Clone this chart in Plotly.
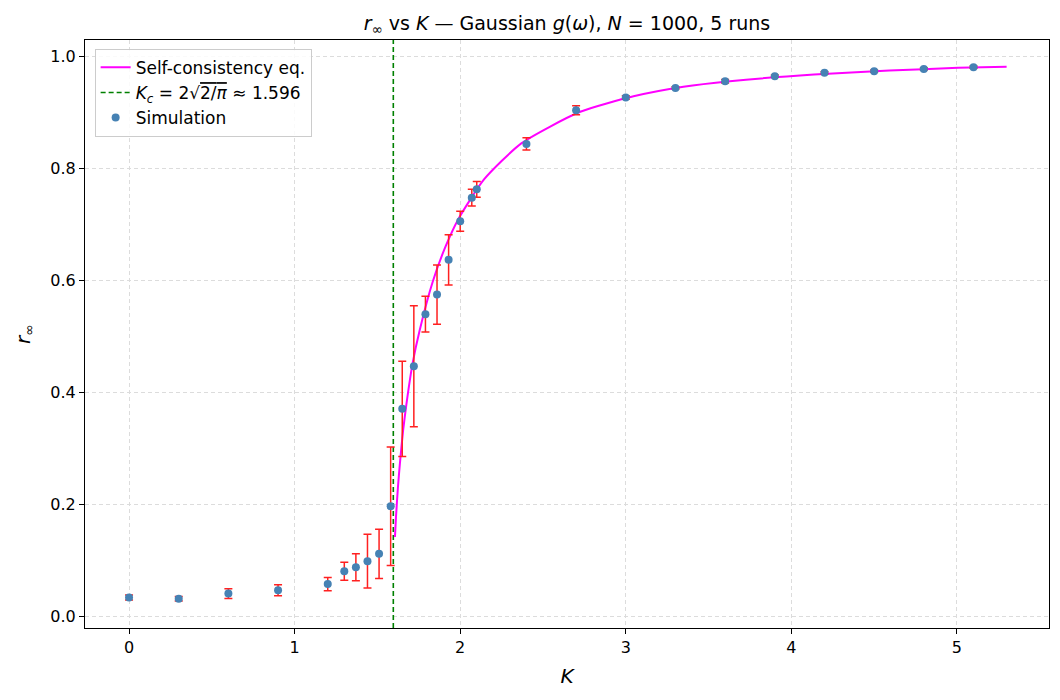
import plotly.graph_objects as go

# Simulation data
K_sim = [0, 0.3, 0.6, 0.9, 1.2, 1.3, 1.37, 1.44, 1.51, 1.58, 1.65, 1.72, 1.79, 1.86,
         1.93, 2.0, 2.07, 2.1, 2.4, 2.7, 3.0, 3.3, 3.6, 3.9, 4.2, 4.5, 4.8, 5.1]
r_sim = [0.033, 0.031, 0.040, 0.046, 0.057, 0.080, 0.087, 0.098, 0.111, 0.196, 0.370,
         0.446, 0.539, 0.574, 0.636, 0.705, 0.747, 0.762, 0.843, 0.903, 0.926, 0.943,
         0.955, 0.964, 0.970, 0.973, 0.977, 0.980]
r_err = [0.0045, 0.004, 0.0085, 0.010, 0.012, 0.016, 0.024, 0.048, 0.044, 0.106, 0.085,
         0.108, 0.032, 0.053, 0.045, 0.018, 0.015, 0.014, 0.011, 0.008, 0.003, 0.002,
         0.003, 0.002, 0.002, 0.002, 0.002, 0.002]

# Self-consistency curve
K_theory = [1.606, 1.612, 1.624, 1.636, 1.655, 1.675, 1.713, 1.755, 1.834, 1.913,
            1.991, 2.145, 2.369, 2.721, 3.047, 3.348, 3.628, 4.137, 4.592, 5.007, 5.3]
r_theory = [0.141, 0.176, 0.230, 0.273, 0.331, 0.378, 0.452, 0.510, 0.597, 0.661,
            0.710, 0.780, 0.844, 0.900, 0.928, 0.945, 0.955, 0.967, 0.974, 0.979, 0.981]

Kc = 1.596
x_range = [-0.266, 5.556]
y_range = [-0.0214, 1.0286]

fig = go.Figure()

fig.add_trace(go.Scatter(
    x=[Kc, Kc], y=y_range, mode="lines",
    line=dict(color="#008000", width=1.6, dash="5px,3px"),
    name="<i>K</i><sub><i>c</i></sub> = 2√<span style='text-decoration:overline'>2/<i>π</i></span> ≈ 1.596",
    legendrank=2,
))

fig.add_trace(go.Scatter(
    x=K_theory, y=r_theory, mode="lines",
    line=dict(color="#FF00FF", width=2, shape="spline", smoothing=0.6),
    name="Self-consistency eq.",
    legendrank=1,
))

fig.add_trace(go.Scatter(
    x=K_sim, y=r_sim, mode="markers",
    marker=dict(color="#4682B4", size=8),
    error_y=dict(type="data", array=r_err, visible=True, color="#FF2020",
                 thickness=1.5, width=4),
    name="Simulation",
    legendrank=3,
))

axis_common = dict(
    showline=True, linecolor="black", linewidth=1.2, mirror=True,
    ticks="outside", ticklen=5, tickcolor="black", tickwidth=1,
    showgrid=True, gridcolor="#dcdcdc", griddash="4px,3px", gridwidth=1,
    zeroline=False,
    tickfont=dict(size=16, color="black"),
)

fig.update_xaxes(range=x_range, tickvals=[0, 1, 2, 3, 4, 5],
                 title=dict(text="<i>K</i>", font=dict(size=20, color="black"), standoff=12),
                 **axis_common)
fig.update_yaxes(range=y_range, tickvals=[0, 0.2, 0.4, 0.6, 0.8, 1.0],
                 tickformat=".1f",
                 title=dict(text="<i>r</i><sub>∞</sub>", font=dict(size=20, color="black"), standoff=14),
                 **axis_common)

fig.update_layout(
    width=1060, height=700,
    margin=dict(l=85, r=11, t=40, b=72),
    plot_bgcolor="white", paper_bgcolor="white",
    font=dict(family="DejaVu Sans", color="black"),
    title=dict(text="<i>r</i><sub>∞</sub> vs <i>K</i> — Gaussian <i>g</i>(<i>ω</i>), <i>N</i> = 1000, 5 runs",
               x=0.5, xanchor="center", xref="paper", y=0.967, yanchor="middle",
               font=dict(size=19, color="black")),
    legend=dict(x=0.01, y=0.985, xanchor="left", yanchor="top",
                bgcolor="rgba(255,255,255,0.85)", bordercolor="#cccccc", borderwidth=1,
                font=dict(size=17, color="black"), tracegroupgap=0),
    showlegend=True,
)

fig.write_html("out.html")
